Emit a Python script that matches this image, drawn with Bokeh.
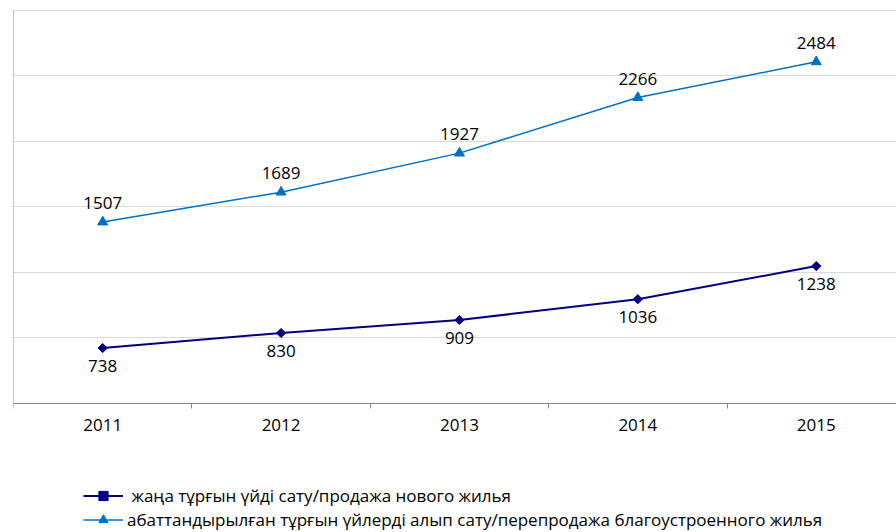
from math import pi
from bokeh.plotting import figure
from bokeh.models import Range1d, FixedTicker, Legend, LegendItem
from bokeh.core.properties import value
from bokeh.embed import file_html
from bokeh.resources import INLINE

years = ["2011", "2012", "2013", "2014", "2015"]
new_housing = [738, 830, 909, 1036, 1238]
resale_housing = [1507, 1689, 1927, 2266, 2484]
y_ticks = [400, 800, 1200, 1600, 2000, 2400, 2800]
legend_labels = [
    " жаңа тұрғын үйді сату/продажа нового жилья",
    "абаттандырылған тұрғын үйлерді алып сату/перепродажа благоустроенного жилья",
]

x = list(range(1, len(years) + 1))
FONT = value("Open Sans")

p = figure(width=896, height=532, output_backend="svg", toolbar_location=None,
           x_range=Range1d(0.5, 5.45), y_range=Range1d(-387, 2858),
           min_border_left=13, min_border_right=0, min_border_top=0,
           min_border_bottom=0, outline_line_color=None,
           background_fill_color="white", border_fill_color="white")

AX = "#868686"
# x axis (drawn at y = 400 inside the frame)
p.xaxis.fixed_location = 400
p.xaxis.ticker = FixedTicker(ticks=x, minor_ticks=[i + 0.5 for i in range(0, len(years) + 1)])
p.xaxis.major_label_overrides = {xi: yr for xi, yr in zip(x, years)}
p.xaxis.major_tick_out = 0
p.xaxis.major_tick_in = 0
p.xaxis.minor_tick_out = 5
p.xaxis.minor_tick_in = 0
p.xaxis.axis_line_color = AX
p.xaxis.minor_tick_line_color = AX
p.xaxis.major_label_text_font = "Open Sans"
p.xaxis.major_label_text_font_size = "17px"
p.xaxis.major_label_text_color = "#000000"
p.xaxis.major_label_standoff = 11

# y axis
p.yaxis.fixed_location = 0.5
p.yaxis.bounds = (400, 2800)
p.yaxis.ticker = FixedTicker(ticks=y_ticks, minor_ticks=[])
p.yaxis.major_label_overrides = {t: "" for t in y_ticks}
p.yaxis.major_tick_out = 6
p.yaxis.major_tick_in = 0
p.yaxis.minor_tick_line_color = None
p.yaxis.axis_line_color = AX
p.yaxis.major_tick_line_color = AX

p.xgrid.visible = False
p.ygrid.ticker = FixedTicker(ticks=y_ticks[1:], minor_ticks=[])
p.ygrid.grid_line_color = "#d9d9d9"
p.ygrid.grid_line_width = 1

NAVY = "#000080"
BLUE = "#0070C0"

r1 = p.line(x, new_housing, line_color=NAVY, line_width=2)
m1 = p.scatter(x, new_housing, marker="square", angle=pi / 4, size=6.5,
               fill_color=NAVY, line_color=NAVY)
r2 = p.line(x, resale_housing, line_color=BLUE, line_width=1.5)
m2 = p.scatter(x, resale_housing, marker="triangle", size=10,
               fill_color=BLUE, line_color=BLUE)

p.text(x, resale_housing, text=[str(v) for v in resale_housing],
       text_align="center", text_baseline="middle", y_offset=-19,
       text_font=FONT, text_font_size="17px", text_color="#000000")
p.text(x, new_housing, text=[str(v) for v in new_housing],
       text_align="center", text_baseline="middle", y_offset=18,
       text_font=FONT, text_font_size="17px", text_color="#000000")

legend = Legend(items=[LegendItem(label=legend_labels[0], renderers=[r1, m1]),
                       LegendItem(label=legend_labels[1], renderers=[r2, m2])],
                location=(70, 1), orientation="vertical",
                glyph_width=40, glyph_height=23, label_height=23, spacing=1,
                padding=0, margin=0, border_line_color=None,
                background_fill_alpha=0, label_standoff=4,
                label_text_font="Open Sans", label_text_font_size="17px",
                label_text_color="#000000")
p.add_layout(legend)

open("out.html", "w").write(file_html(p, INLINE))
